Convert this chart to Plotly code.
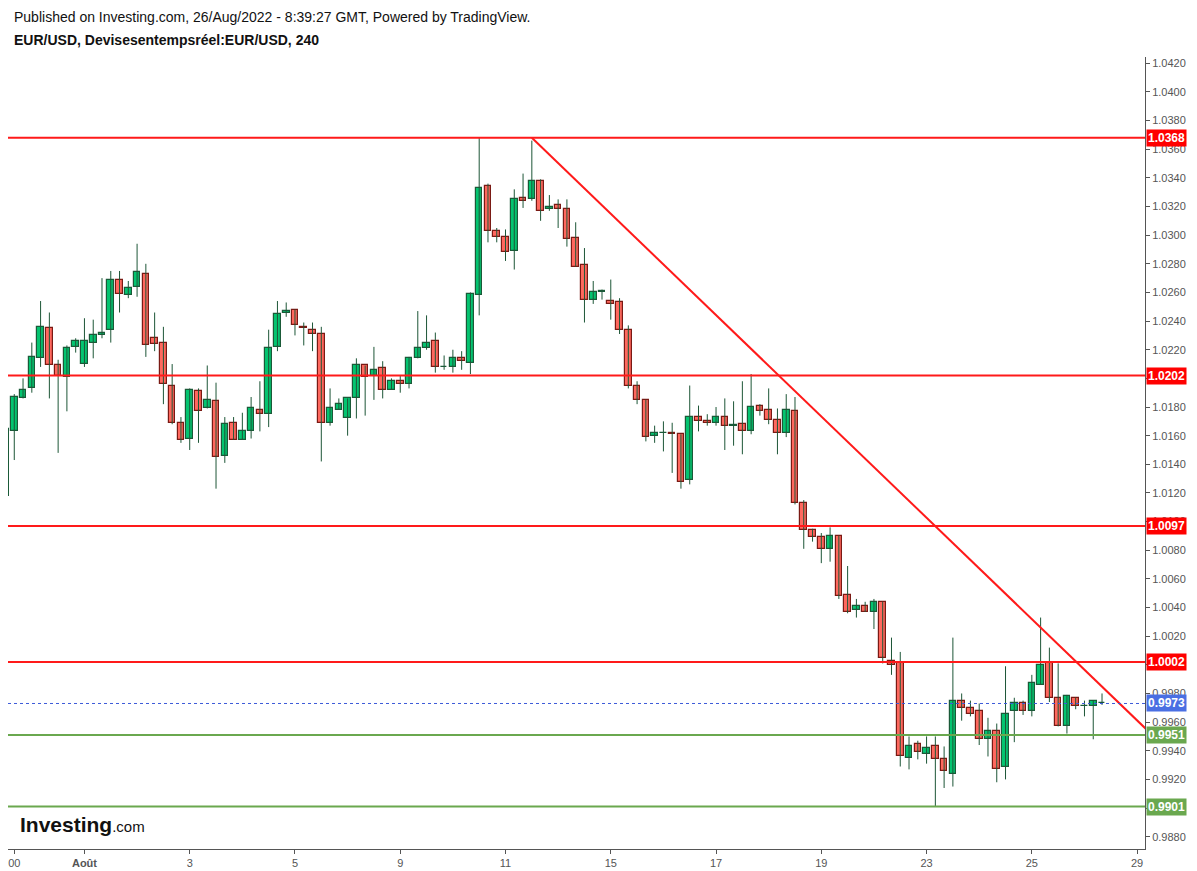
import plotly.graph_objects as go

# EUR/USD 4h bars, 29 Jul - 26 Aug 2022 (bar index along x)
opens = [1.0118, 1.0163, 1.0186, 1.0193, 1.0214, 1.0235, 1.0209, 1.0201, 1.0222, 1.0210,
         1.0225, 1.0230, 1.0234, 1.0269, 1.0258, 1.0264, 1.0273, 1.0228, 1.0225, 1.0195,
         1.0169, 1.0158, 1.0191, 1.0179, 1.0184, 1.0146, 1.0169, 1.0157, 1.0163, 1.0178,
         1.0175, 1.0222, 1.0246, 1.0248, 1.0236, 1.0234, 1.0231, 1.0169, 1.0178, 1.0172,
         1.0186, 1.0209, 1.0202, 1.0207, 1.0192, 1.0198, 1.0196, 1.0214, 1.0221, 1.0226,
         1.0208, 1.0208, 1.0214, 1.0211, 1.0258, 1.0334, 1.0303, 1.0299, 1.0289, 1.0326,
         1.0325, 1.0338, 1.0318, 1.0321, 1.0318, 1.0298, 1.0279, 1.0255, 1.0260, 1.0254,
         1.0253, 1.0234, 1.0195, 1.0185, 1.0160, 1.0162, 1.0162, 1.0161, 1.0129, 1.0173,
         1.0170, 1.0169, 1.0173, 1.0167, 1.0168, 1.0163, 1.0181, 1.0178, 1.0171, 1.0162,
         1.0177, 1.0113, 1.0094, 1.0089, 1.0081, 1.0090, 1.0049, 1.0038, 1.0041, 1.0037,
         1.0044, 1.0003, 1.0001, 0.9935, 0.9945, 0.9938, 0.9943, 0.9934, 0.9924, 0.9975,
         0.9970, 0.9968, 0.9948, 0.9954, 0.9929, 0.9968, 0.9973, 0.9968, 0.9986, 1.0001,
         0.9977, 0.9957, 0.9977, 0.9971, 0.9971, 0.9973]
highs = [1.0165, 1.0189, 1.0200, 1.0225, 1.0254, 1.0246, 1.0213, 1.0223, 1.0228, 1.0242,
         1.0241, 1.0270, 1.0275, 1.0275, 1.0268, 1.0294, 1.0280, 1.0246, 1.0236, 1.0210,
         1.0173, 1.0193, 1.0193, 1.0209, 1.0197, 1.0173, 1.0173, 1.0176, 1.0187, 1.0198,
         1.0234, 1.0254, 1.0253, 1.0248, 1.0239, 1.0239, 1.0236, 1.0193, 1.0186, 1.0186,
         1.0214, 1.0209, 1.0222, 1.0212, 1.0200, 1.0202, 1.0215, 1.0247, 1.0244, 1.0232,
         1.0216, 1.0220, 1.0219, 1.0260, 1.0368, 1.0336, 1.0305, 1.0304, 1.0332, 1.0343,
         1.0366, 1.0339, 1.0328, 1.0325, 1.0325, 1.0309, 1.0291, 1.0268, 1.0262, 1.0269,
         1.0256, 1.0237, 1.0198, 1.0185, 1.0167, 1.0170, 1.0169, 1.0161, 1.0195, 1.0181,
         1.0175, 1.0180, 1.0186, 1.0184, 1.0198, 1.0203, 1.0182, 1.0193, 1.0179, 1.0189,
         1.0187, 1.0115, 1.0095, 1.0092, 1.0096, 1.0090, 1.0069, 1.0046, 1.0044, 1.0046,
         1.0044, 1.0019, 1.0009, 0.9950, 0.9947, 0.9950, 0.9950, 0.9943, 1.0019, 0.9980,
         0.9975, 0.9973, 0.9963, 0.9959, 0.9999, 0.9977, 0.9975, 0.9993, 1.0033, 1.0012,
         1.0001, 0.9979, 0.9977, 0.9975, 0.9975, 0.9980]
lows = [1.0118, 1.0143, 1.0186, 1.0190, 1.0208, 1.0186, 1.0148, 1.0177, 1.0218, 1.0208,
        1.0214, 1.0228, 1.0225, 1.0246, 1.0256, 1.0257, 1.0215, 1.0219, 1.0182, 1.0168,
        1.0155, 1.0150, 1.0155, 1.0179, 1.0123, 1.0141, 1.0157, 1.0157, 1.0158, 1.0163,
        1.0166, 1.0219, 1.0243, 1.0230, 1.0223, 1.0219, 1.0142, 1.0167, 1.0178, 1.0160,
        1.0172, 1.0174, 1.0185, 1.0186, 1.0192, 1.0190, 1.0193, 1.0214, 1.0220, 1.0204,
        1.0206, 1.0204, 1.0206, 1.0203, 1.0244, 1.0295, 1.0295, 1.0282, 1.0276, 1.0319,
        1.0324, 1.0310, 1.0317, 1.0305, 1.0292, 1.0278, 1.0239, 1.0252, 1.0255, 1.0241,
        1.0231, 1.0193, 1.0182, 1.0156, 1.0155, 1.0149, 1.0134, 1.0123, 1.0126, 1.0163,
        1.0167, 1.0167, 1.0150, 1.0153, 1.0147, 1.0161, 1.0174, 1.0168, 1.0147, 1.0159,
        1.0112, 1.0081, 1.0086, 1.0071, 1.0072, 1.0046, 1.0036, 1.0033, 1.0037, 1.0025,
        1.0001, 0.9993, 0.9929, 0.9927, 0.9934, 0.9931, 0.9901, 0.9914, 0.9915, 0.9961,
        0.9964, 0.9944, 0.9936, 0.9918, 0.9920, 0.9946, 0.9965, 0.9964, 0.9986, 0.9974,
        0.9957, 0.9952, 0.9969, 0.9964, 0.9948, 0.9972]
closes = [1.0165, 1.0187, 1.0192, 1.0215, 1.0236, 1.0209, 1.0202, 1.0221, 1.0226, 1.0226,
          1.0230, 1.0232, 1.0269, 1.0259, 1.0263, 1.0274, 1.0223, 1.0224, 1.0196, 1.0169,
          1.0157, 1.0192, 1.0177, 1.0185, 1.0145, 1.0168, 1.0157, 1.0163, 1.0179, 1.0175,
          1.0221, 1.0245, 1.0247, 1.0237, 1.0235, 1.0231, 1.0169, 1.0179, 1.0182, 1.0186,
          1.0209, 1.0201, 1.0206, 1.0192, 1.0198, 1.0196, 1.0214, 1.0221, 1.0225, 1.0208,
          1.0208, 1.0214, 1.0212, 1.0259, 1.0333, 1.0303, 1.0299, 1.0288, 1.0325, 1.0324,
          1.0338, 1.0317, 1.0320, 1.0318, 1.0297, 1.0278, 1.0255, 1.0260, 1.0261, 1.0252,
          1.0234, 1.0195, 1.0185, 1.0159, 1.0162, 1.0162, 1.0161, 1.0128, 1.0173, 1.0170,
          1.0169, 1.0173, 1.0167, 1.0167, 1.0163, 1.0180, 1.0177, 1.0171, 1.0162, 1.0178,
          1.0113, 1.0094, 1.0089, 1.0081, 1.0090, 1.0048, 1.0037, 1.0041, 1.0037, 1.0044,
          1.0005, 1.0000, 0.9936, 0.9943, 0.9939, 0.9942, 0.9934, 0.9926, 0.9975, 0.9970,
          0.9966, 0.9948, 0.9954, 0.9927, 0.9966, 0.9973, 0.9968, 0.9987, 1.0000, 0.9977,
          0.9957, 0.9978, 0.9971, 0.9971, 0.9975, 0.9973]

x_tick_pos = [1, 9, 21, 33, 45, 57, 69, 81, 93, 105, 117, 129]
x_tick_text = ["00", "<b>Août</b>", "3", "5", "9", "11", "15", "17", "19", "23", "25", "29"]

red_levels = [1.0368, 1.0202, 1.0097, 1.0002]
green_levels = [0.9951, 0.9901]
last_price = 0.9973

# trend line drawn from the 11 Aug top
trend_x = [60, 131]
trend_y = [1.0368, 0.99494]

GREEN, GREEN_EDGE = "#04c470", "#1a5a38"
RED, RED_EDGE = "#ff685e", "#7a1a14"
WICK = "#1d5637"
FONT = "Liberation Sans, Arial, sans-serif"

idx = list(range(len(opens)))
up = [c >= o for o, c in zip(opens, closes)]

wick_x, wick_y = [], []
for i, h, l in zip(idx, highs, lows):
    wick_x += [i, i, None]
    wick_y += [l, h, None]

body_base = [min(o, c) for o, c in zip(opens, closes)]
body_h = [max(abs(c - o), 0.000015) for o, c in zip(opens, closes)]

fig = go.Figure()
fig.add_trace(go.Scatter(x=wick_x, y=wick_y, mode="lines",
                         line=dict(color=WICK, width=1), hoverinfo="skip"))
fig.add_trace(go.Bar(x=idx, y=body_h, base=body_base, width=0.75,
                     marker=dict(color=[GREEN if u else RED for u in up],
                                 line=dict(color=[GREEN_EDGE if u else RED_EDGE for u in up], width=1.2)),
                     hoverinfo="skip"))
fig.add_trace(go.Scatter(x=trend_x, y=trend_y, mode="lines",
                         line=dict(color="#ff1a1a", width=2), hoverinfo="skip"))


def price_tag(level, bg):
    fig.add_annotation(x=1, xref="paper", y=level, yref="y", xanchor="left", xshift=1,
                       text=f"<b>{level:.4f}</b>", showarrow=False, bgcolor=bg,
                       font=dict(color="white", size=12, family=FONT), borderpad=1)


for lvl in red_levels:
    fig.add_hline(y=lvl, line=dict(color="#ff1a1a", width=2), layer="above")
    price_tag(lvl, "#ff0000")
for lvl in green_levels:
    fig.add_hline(y=lvl, line=dict(color="#6aa84f", width=2), layer="above")
    price_tag(lvl, "#6aa84f")
fig.add_hline(y=last_price, line=dict(color="#3d5bd9", width=1, dash="dot"), layer="above")
price_tag(last_price, "#4a6fe3")

fig.add_annotation(x=0, xref="paper", xanchor="left", xshift=4, y=1, yref="paper", yanchor="middle",
                   yshift=40, showarrow=False,
                   text="Published on Investing.com, 26/Aug/2022 - 8:39:27 GMT, Powered by TradingView.",
                   font=dict(size=14, color="#111", family=FONT))
fig.add_annotation(x=0, xref="paper", xanchor="left", xshift=4, y=1, yref="paper", yanchor="middle",
                   yshift=17, showarrow=False,
                   text="<b>EUR/USD, Devisesentempsréel:EUR/USD, 240</b>",
                   font=dict(size=14, color="#111", family=FONT))
fig.add_annotation(x=0, xref="paper", xanchor="left", xshift=10, y=0, yref="paper", yanchor="middle",
                   yshift=25, showarrow=False,
                   text="<b>Investing</b><span style='font-size:15px'>.com</span>",
                   font=dict(size=21, color="#111", family=FONT))

# the page adds an 8px body margin, so the figure is 8px smaller than the window
fig.update_layout(
    width=1189, height=863, autosize=False,
    margin=dict(l=0, r=52, t=49, b=22),
    paper_bgcolor="white", plot_bgcolor="white",
    showlegend=False, bargap=0,
    font=dict(family=FONT, size=11, color="#555"),
)
fig.update_xaxes(range=[0.285, 129.9], tickvals=x_tick_pos, ticktext=x_tick_text,
                 showgrid=False, zeroline=False, showline=True, linecolor="#555", linewidth=1,
                 ticks="outside", ticklen=4, tickcolor="#555",
                 tickfont=dict(size=11, color="#555", family=FONT))
fig.update_yaxes(range=[0.98714, 1.04244], side="right", dtick=0.002, tick0=0.988,
                 tickformat=".4f", showgrid=False, zeroline=False, showline=True,
                 linecolor="#555", linewidth=1, ticks="outside", ticklen=4, tickcolor="#555",
                 tickfont=dict(size=11, color="#555", family=FONT))

fig.write_html("out.html")
